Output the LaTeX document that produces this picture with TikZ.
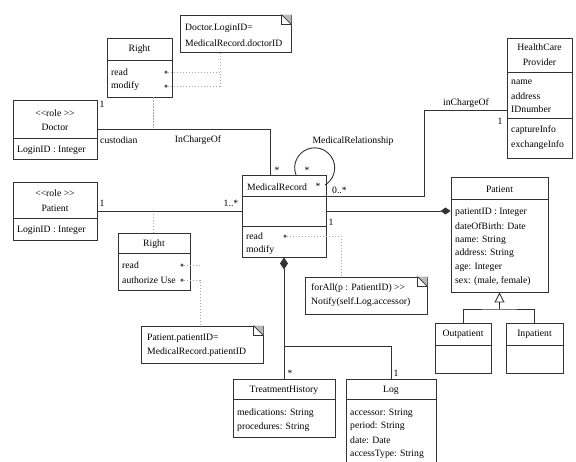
\documentclass[tikz,border=0pt]{standalone}
\usepackage{fontspec}
\setmainfont{Liberation Serif}
\usetikzlibrary{arrows.meta}

\tikzset{
  classbox/.style={draw=black!80, line width=.9pt, inner sep=0pt},
  notebox/.style={draw=black!80, line width=.9pt, inner sep=0pt},
  txt/.style={font=\fontsize{9.7}{11}\selectfont, inner sep=0pt},
  attr/.style={txt, anchor=west},
  assoc/.style={draw=black!80, line width=.9pt},
  dotlink/.style={draw=gray!70, line width=.6pt, dash pattern=on 1.5pt off 1.5pt},
  attrdot/.style={circle, fill=black!65, inner sep=0pt, minimum size=3.5pt},
}

\begin{document}
\begin{tikzpicture}[x=1pt,y=-1pt]
\useasboundingbox (0,0) rectangle (576,461);
\clip (0,0) rectangle (576,461);

% class boxes
\node[classbox, minimum width=65pt, minimum height=59pt] (rightA) at (139.5,67.5) {};
\node[classbox, minimum width=84pt, minimum height=59pt] (doctor) at (55,129.5) {};
\node[classbox, minimum width=84pt, minimum height=58pt] (patientRole) at (55,211) {};
\node[classbox, minimum width=84pt, minimum height=82pt] (mr) at (284,216) {};
\node[classbox, minimum width=65pt, minimum height=120pt] (hcp) at (539.5,98) {};
\node[classbox, minimum width=97pt, minimum height=115pt] (patient) at (499.5,234.5) {};
\node[classbox, minimum width=56pt, minimum height=50pt] (outp) at (463,348) {};
\node[classbox, minimum width=57pt, minimum height=50pt] (inp) at (534.5,348) {};
\node[classbox, minimum width=72pt, minimum height=57pt] (rightB) at (154,261.5) {};
\node[classbox, minimum width=102pt, minimum height=58pt] (treat) at (284,408) {};
\node[classbox, minimum width=90pt, minimum height=100pt] (log) at (391,429) {};

% notes
\node[notebox, minimum width=111pt, minimum height=37pt] (noteA) at (235.5,33.5) {};
\node[notebox, minimum width=122pt, minimum height=37pt] (noteB) at (202,344.5) {};
\node[notebox, minimum width=122pt, minimum height=37pt] (noteC) at (366,295.5) {};
\foreach \n in {noteA,noteB,noteC} {
  \fill[gray!55] (\n.north east) ++(-10,0) -- ++(10,10) -- ++(0,-10) -- cycle;
  \draw[black!80, line width=.6pt] (\n.north east) ++(-10,0) -- ++(0,10) -- ++(10,0);
  \draw[black!80, line width=.6pt] (\n.north east) ++(-10,0) -- ++(10,10);
}

% compartments
\draw[black!80, line width=.9pt] (107,60) -- (172,60);
\draw[black!80, line width=.9pt] (13,138) -- (97,138);
\draw[black!80, line width=.9pt] (13,218) -- (97,218);
\draw[black!80, line width=.9pt] (242,196) -- (326,196);
\draw[black!80, line width=.9pt] (242,226) -- (326,226);
\draw[black!80, line width=.9pt] (507,72) -- (572,72);
\draw[black!80, line width=.9pt] (507,118) -- (572,118);
\draw[black!80, line width=.9pt] (451,199) -- (548,199);
\draw[black!80, line width=.9pt] (435,345) -- (491,345);
\draw[black!80, line width=.9pt] (506,345) -- (563,345);
\draw[black!80, line width=.9pt] (118,253) -- (190,253);
\draw[black!80, line width=.9pt] (233,399) -- (335,399);
\draw[black!80, line width=.9pt] (346,399) -- (436,399);

% texts
\node[txt] (rightAt) at (139.5,49) {Right};
\node[attr] (rightAr) at (111,72) {read};
\node[attr] (rightAm) at (111,86) {modify};
\node[attrdot] (dotAr) at (166,72) {};
\node[attrdot] (dotAm) at (166,86) {};

\node[attr] (noteAa) at (185,28) {Doctor.LoginID=};
\node[attr] (noteAb) at (185,43) {MedicalRecord.doctorID};

\node[txt] (doctorS) at (55,113) {{<}{<}role {>}{>}};
\node[txt] (doctorT) at (55,127) {Doctor};
\node[attr] (doctorA) at (17,150) {LoginID : Integer};

\node[txt] (patRoleS) at (55,193) {{<}{<}role {>}{>}};
\node[txt] (patRoleT) at (55,208) {Patient};
\node[attr] (patRoleA) at (17,230) {LoginID : Integer};

\node[attr] (mrT) at (247,187) {MedicalRecord};
\node[attr] (mrR) at (246,236) {read};
\node[attr] (mrM) at (246,250) {modify};
\node[attrdot] (dotMr) at (285,236) {};

\node[txt] (hcpT1) at (539.5,47) {HealthCare};
\node[txt] (hcpT2) at (539.5,62) {Provider};
\node[attr] (hcpA1) at (511,82) {name};
\node[attr] (hcpA2) at (511,96) {address};
\node[attr] (hcpA3) at (511,109) {IDnumber};
\node[attr] (hcpO1) at (511,130) {captureInfo};
\node[attr] (hcpO2) at (511,145) {exchangeInfo};

\node[txt] (patT) at (499.5,189) {Patient};
\node[attr] (patA1) at (455,212) {patientID : Integer};
\node[attr] (patA2) at (455,226) {dateOfBirth: Date};
\node[attr] (patA3) at (455,240) {name:  String};
\node[attr] (patA4) at (455,253) {address: String};
\node[attr] (patA5) at (455,267) {age: Integer};
\node[attr] (patA6) at (455,281) {sex: (male, female)};

\node[txt] (outpT) at (463,334) {Outpatient};
\node[txt] (inpT) at (534.5,334) {Inpatient};

\node[txt] (rightBt) at (154,244) {Right};
\node[attr] (rightBr) at (122,265) {read};
\node[attr] (rightBa) at (122,280) {authorize Use};
\node[attrdot] (dotBr) at (182,265) {};
\node[attrdot] (dotBa) at (182,280) {};

\node[attr] (noteBa) at (147,338) {Patient.patientID=};
\node[attr] (noteBb) at (147,352) {MedicalRecord.patientID};

\node[attr] (noteCa) at (311,288) {forAll(p : PatientID) {>}{>}};
\node[attr] (noteCb) at (311,302) {Notify(self.Log.accessor)};

\node[txt] (treatT) at (284,390) {TreatmentHistory};
\node[attr] (treatA1) at (237,413) {medications: String};
\node[attr] (treatA2) at (237,427) {procedures: String};

\node[txt] (logT) at (391,390) {Log};
\node[attr] (logA1) at (350,413) {accessor: String};
\node[attr] (logA2) at (350,426) {period: String};
\node[attr] (logA3) at (350,440) {date: Date};
\node[attr] (logA4) at (350,454) {accessType: String};

% associations
\coordinate (mrTopA) at (270,175);
\coordinate (mrEastA) at (326,196);
\coordinate (mrEastB) at (326,211);
\coordinate (hcpWest) at (507,110);
\coordinate (loopA) at (296,175);
\coordinate (genJoin) at (499.5,309);
\coordinate (logJoin) at (284,346);

\draw[assoc] (doctor.east) -| (mrTopA);
\draw[assoc] (patientRole.east) -- (patientRole.east -| mr.west);
\draw[assoc] (mrEastA) -- (424,196) |- (hcpWest);
\draw[assoc, -{Diamond[length=10pt,width=7pt]}] (mrEastB) -- (mrEastB -| patient.west);
\draw[assoc] (loopA) arc[start angle=159, end angle=419, radius=20];
\draw[assoc, {Diamond[length=12pt,width=8pt]}-] (mr.south) -- (treat.north);
\draw[assoc] (logJoin) -| (log.north);
\draw[assoc] (outp.north) |- (genJoin) -| (inp.north);
\draw[assoc, -{Triangle[open,length=10pt,width=10pt]}] (genJoin) -- (patient.south);

% association labels
\node[txt] (mDoc) at (102,104) {1};
\node[attr] (lCust) at (100,140) {custodian};
\node[txt] (lInCh) at (198,140) {InChargeOf};
\node[txt] (mDocMr) at (277,170) {*};
\node[txt] (mPat) at (102,203) {1};
\node[txt] (mPatMr) at (231,203) {1..*};
\node[txt] (mLoopA) at (307,170) {*};
\node[txt] (mLoopB) at (318,186) {*};
\node[attr] (mLoopC) at (332,190) {0..*};
\node[txt] (lRel) at (353,141) {MedicalRelationship};
\node[txt] (lHcp) at (466,103) {inChargeOf};
\node[txt] (mHcp) at (500,121) {1};
\node[txt] (mMrPat) at (331,222) {1};
\node[txt] (mTreat) at (290,373) {*};
\node[txt] (mLog) at (396,373) {1};

% constraint links
\draw[dotlink] (153,97) -- (153,128);
\draw[dotlink] (dotAr) -- (220,72);
\draw[dotlink] (dotAm) -- (220,86) -- (220,52);
\draw[dotlink] (153,233) -- (153,212);
\draw[dotlink] (dotBr) -- (200,265);
\draw[dotlink] (dotBa) -- (200,280) -- (noteB.north -| 200,0);
\draw[dotlink] (dotMr) -- (341,236) -- (noteC.north -| 341,0);
\end{tikzpicture}
\end{document}
